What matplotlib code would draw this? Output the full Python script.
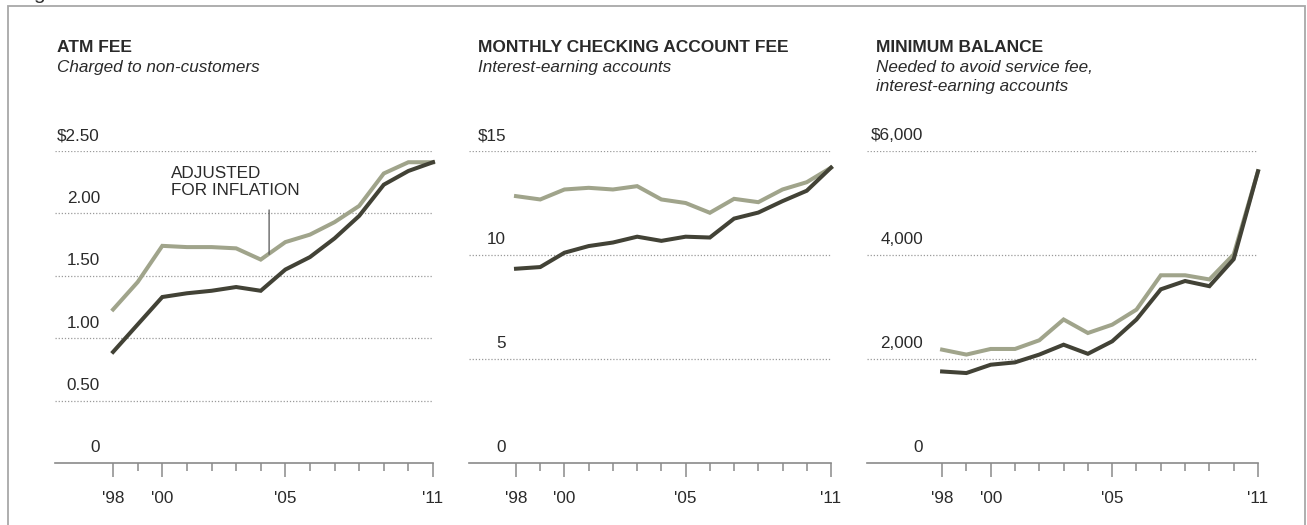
import matplotlib
matplotlib.use("Agg")
import matplotlib.pyplot as plt
from matplotlib.patches import Rectangle

plt.rcParams['font.family'] = ['Liberation Sans', 'DejaVu Sans']

# years on the x axis
years = list(range(1998, 2012))
year_ticks = [1998, 2000, 2005, 2011]
year_labels = ["'98", "'00", "'05", "'11"]

# ATM fee, charged to non-customers
atm_nominal = [0.89, 1.11, 1.33, 1.36, 1.38, 1.41, 1.38, 1.55, 1.65, 1.80, 1.98, 2.23, 2.34, 2.41]
atm_adjusted = [1.23, 1.45, 1.74, 1.73, 1.73, 1.72, 1.63, 1.77, 1.83, 1.93, 2.06, 2.32, 2.41, 2.41]
atm_grid = [0.5, 1.0, 1.5, 2.0, 2.5]
atm_labels = ['0', '0.50', '1.00', '1.50', '2.00', '$2.50']

# monthly checking account fee, interest-earning accounts
chk_nominal = [9.34, 9.42, 10.11, 10.43, 10.6, 10.88, 10.68, 10.88, 10.84, 11.75, 12.04, 12.59, 13.09, 14.2]
chk_adjusted = [12.83, 12.67, 13.15, 13.23, 13.15, 13.31, 12.67, 12.5, 12.03, 12.70, 12.54, 13.15, 13.5, 14.2]
chk_grid = [5, 10, 15]
chk_labels = ['0', '5', '10', '$15']

# minimum balance to avoid service fee
bal_nominal = [1760, 1730, 1890, 1935, 2085, 2275, 2100, 2340, 2760, 3340, 3500, 3400, 3920, 5610]
bal_adjusted = [2180, 2085, 2193, 2193, 2360, 2760, 2500, 2660, 2950, 3610, 3610, 3530, 4010, 5610]
bal_grid = [2000, 4000, 6000]
bal_labels = ['0', '2,000', '4,000', '$6,000']

DARK = '#424236'
LIGHT = '#a0a48b'
TXT = '#2a2a2a'
FS = 12.3
W, H = 1307, 525

fig = plt.figure(figsize=(W / 100, H / 100), dpi=100)

# grey frame around the graphic
fig.patches.append(Rectangle((8 / W, -0.1), 1297 / W, 1.1 - 6 / H, transform=fig.transFigure,
                             fill=False, edgecolor='#a8a8a8', linewidth=1.3))
fig.text(33 / W, 1 + 1 / H, 'g', fontsize=15, color='#333', va='baseline')


def panel(left, right, x0, top_val, nominal, adjusted, grid, labels, label_dx,
          title, subtitle, title_x):
    ax = fig.add_axes([left / W, 1 - 463 / H, (right - left) / W, 312 / H])
    ax.set_xlim(x0, 2011)
    ax.set_ylim(0, top_val)
    for g in grid:
        ax.axhline(g, color='#9a9a9a', lw=0.9, ls=(0, (1, 1.5)), zorder=1)
    ax.plot(years, adjusted, color=LIGHT, lw=2.9, solid_joinstyle='miter', zorder=3, clip_on=False)
    ax.plot(years, nominal, color=DARK, lw=2.9, solid_joinstyle='miter', zorder=4, clip_on=False)
    for s in ['top', 'left', 'right']:
        ax.spines[s].set_visible(False)
    ax.spines['bottom'].set_color('#8a8a8a')
    ax.spines['bottom'].set_linewidth(1.2)
    ax.set_yticks([])
    ax.set_xticks(year_ticks)
    ax.set_xticklabels(year_labels, fontsize=FS, color=TXT)
    ax.set_xticks([y for y in years if y not in year_ticks], minor=True)
    ax.tick_params(axis='x', which='major', length=10, width=1.1, color='#8a8a8a', pad=10)
    ax.tick_params(axis='x', which='minor', length=5.5, width=1.1, color='#8a8a8a')
    for v, lab in zip([0] + grid, labels):
        ax.annotate(lab, xy=(x0, v), xytext=(label_dx, 15), textcoords='offset pixels',
                    ha='right', va='center', fontsize=FS, color=TXT, annotation_clip=False)
    fig.text(title_x / W, 1 - 48 / H, title, fontsize=FS + 0.2, fontweight='bold', color=TXT, va='center')
    fig.text(title_x / W, 1 - 60 / H, subtitle, fontsize=FS, style='italic', color=TXT,
             va='top', linespacing=1.3)
    return ax


ax1 = panel(55, 433, 1995.64, 2.5, atm_nominal, atm_adjusted, atm_grid, atm_labels, 45,
            'ATM FEE', 'Charged to non-customers', 57)
ax1.annotate('', xy=(2004.34, 1.65), xytext=(2004.34, 2.05),
             arrowprops=dict(arrowstyle='-', color='#555', lw=0.9))
ax1.text(2000.36, 2.25, 'ADJUSTED\nFOR INFLATION', fontsize=FS, color=TXT, va='center', ha='left')

panel(469, 831, 1996.06, 15, chk_nominal, chk_adjusted, chk_grid, chk_labels, 37,
      'MONTHLY CHECKING ACCOUNT FEE', 'Interest-earning accounts', 478)

panel(867, 1258, 1994.91, 6000, bal_nominal, bal_adjusted, bal_grid, bal_labels, 56,
      'MINIMUM BALANCE', 'Needed to avoid service fee,\ninterest-earning accounts', 876)

fig.savefig('out.png', dpi=100)
